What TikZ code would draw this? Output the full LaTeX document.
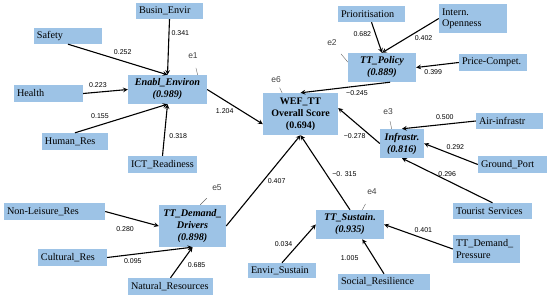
\documentclass[tikz,border=0pt]{standalone}
\usepackage{fontspec}
\setmainfont{Liberation Serif}
\setsansfont{Liberation Sans}
\definecolor{boxblue}{RGB}{157,195,230}

\begin{document}
\begin{tikzpicture}
            [x=1pt, y=-1pt,
             obs node/.style={fill=boxblue, align=left, inner xsep=3pt, inner ysep=1pt, font=\fontsize{10.2}{11.5}\selectfont},
             lat node/.style={fill=boxblue, align=center, inner sep=1pt, font=\fontsize{10.2}{12}\selectfont\bfseries\itshape},
             err node/.style={font=\sffamily\fontsize{8.5}{10}\selectfont, text=black!75, inner sep=0pt},
             link/.style={-stealth, line width=1.1pt},
             err line/.style={black!60, line width=0.4pt},
             coef/.style={font=\sffamily\fontsize{7}{8}\selectfont, inner sep=1pt}]
            \useasboundingbox (0,0) rectangle (550,299);

            % latent constructs
            \node[lat node, minimum width=79pt, minimum height=29pt] (enabl) at (167.5,89.5) {Enabl\_Environ\\(0.989)};
            \node[lat node, minimum width=75pt, minimum height=42pt, font=\fontsize{10}{12}\selectfont\bfseries] (wef) at (300.5,114) {WEF\_TT\\Overall Score\\(0.694)};
            \node[lat node, minimum width=68pt, minimum height=29pt] (policy) at (382,67.5) {TT\_Policy\\(0.889)};
            \node[lat node, minimum width=44pt, minimum height=29pt] (infra) at (402,143.5) {Infrastr.\\(0.816)};
            \node[lat node, minimum width=68pt, minimum height=29pt] (sustain) at (350,224.5) {TT\_Sustain.\\(0.935)};
            \node[lat node, minimum width=67pt, minimum height=42pt] (drivers) at (192.5,226) {TT\_Demand\_\\Drivers\\(0.898)};

            % indicators
            \node[obs node, text width=61pt, minimum height=16pt] (busin) at (169.5,11) {Busin\_Envir};
            \node[obs node, text width=62pt, minimum height=16pt] (safety) at (68,36) {Safety};
            \node[obs node, text width=63pt, minimum height=17pt] (health) at (48.5,93.5) {Health};
            \node[obs node, text width=60pt, minimum height=17pt] (humanres) at (75,141.5) {Human\_Res};
            \node[obs node, text width=63pt, minimum height=17pt] (ict) at (162.5,164.5) {ICT\_Readiness};
            \node[obs node, text width=61pt, minimum height=16pt] (prior) at (371.5,14) {Prioritisation};
            \node[obs node, text width=62pt, minimum height=29pt] (intern) at (473,18.5) {Intern.\\Openness};
            \node[obs node, text width=62pt, minimum height=17pt] (price) at (493,62.5) {Price-Compet.};
            \node[obs node, text width=61pt, minimum height=16pt] (air) at (509.5,121) {Air-infrastr};
            \node[obs node, text width=63pt, minimum height=17pt] (ground) at (512.5,164.5) {Ground\_Port};
            \node[obs node, text width=73pt, minimum height=16pt] (tourist) at (492.5,211) {Tourist Services};
            \node[obs node, text width=61pt, minimum height=28pt] (pressure) at (486.5,249) {TT\_Demand\_\\Pressure};
            \node[obs node, text width=86pt, minimum height=16pt] (social) at (384,282) {Social\_Resilience};
            \node[obs node, text width=62pt, minimum height=15pt] (envsus) at (282,270.5) {Envir\_Sustain};
            \node[obs node, text width=95pt, minimum height=17pt] (nonleis) at (54.5,211.5) {Non-Leisure\_Res};
            \node[obs node, text width=63pt, minimum height=17pt] (cultural) at (72.5,257.5) {Cultural\_Res};
            \node[obs node, text width=79pt, minimum height=17pt] (natural) at (170.5,286.5) {Natural\_Resources};

            % error terms
            \node[err node] (e1) at (193,56) {e1};
            \node[err node] (e2) at (332,43) {e2};
            \node[err node] (e3) at (388,112) {e3};
            \node[err node] (e4) at (372,192) {e4};
            \node[err node] (e5) at (217,188) {e5};
            \node[err node] (e6) at (276,80) {e6};

            \draw[err line, shorten <=9pt] (e1) -- (enabl.26);
            \draw[err line, shorten <=10pt] (e2) -- (policy.171);
            \draw[err line, shorten <=6pt] (e3) -- (infra.125);
            \draw[err line, shorten <=10pt] (e4) -- (sustain.50);
            \draw[err line, shorten <=10pt] (e5) -- (drivers.70);
            \draw[err line, shorten <=5pt] (e6) -- (wef.131);

            \draw[link] (busin.south) -- node[coef, pos=0.25, right=1pt] {0.341} (enabl.north);
            \draw[link] (safety.south) -- node[coef, pos=0.55, above=4.5pt] {0.252} (enabl.north);
            \draw[link] (health.east) -- node[coef, pos=0.33, above=3.5pt] {0.223} (enabl.west);
            \draw[link] (humanres.north) -- node[coef, pos=0.27, above=4.5pt] {0.155} (enabl.south);
            \draw[link] (ict.north) -- node[coef, pos=0.38, right=3.5pt] {0.318} (enabl.south);
            \draw[link] (enabl.east) -- node[coef, pos=0.5, below left] {1.204} (wef.195);

            \draw[link] (prior.south) -- node[coef, pos=0.39, left=3pt] {0.682} (policy.north);
            \draw[link] (intern.west) -- node[coef, pos=0.45, below right] {0.402} (policy.north);
            \draw[link] (price.west) -- node[coef, pos=0.6, below=3pt] {0.399} (policy.east);
            \draw[link] (policy.-61) -- node[coef, pos=0.37, below=2.5pt] {−0.245} (wef.north);

            \draw[link] (air.west) -- node[coef, pos=0.42, above=3pt] {0.500} (infra.north);
            \draw[link] (ground.west) -- node[coef, pos=0.42, above=5pt] {0.292} (infra.east);
            \draw[link] (tourist.north) -- node[coef, pos=0.5, above=2.5pt] {0.296} (infra.south);
            \draw[link] (infra.west) -- node[coef, pos=0.2, left=4.5pt] {−0.278} (wef.9);

            \draw[link] (envsus.north) -- node[coef, pos=0.5, left=5pt] {0.034} (sustain.west);
            \draw[link] (social.north) -- node[coef, pos=0.44, left=14.5pt] {1.005} (sustain.-50);
            \draw[link] (pressure.west) -- node[coef, pos=0.43, above=4.5pt] {0.401} (sustain.east);
            \draw[link] (sustain.north) -- node[coef, pos=0.48, right=4.5pt] {−0. 315} (wef.south);

            \draw[link] (nonleis.east) -- node[coef, pos=0.37, below=8.5pt] {0.280} (drivers.west);
            \draw[link] (cultural.east) -- node[coef, pos=0.3, below=3pt] {0.095} (drivers.south);
            \draw[link] (natural.north) -- node[coef, pos=0.42, right=6.5pt] {0.685} (drivers.south);
            \draw[link] (drivers.east) -- node[coef, pos=0.5, right=3pt] {0.407} (wef.south);
         \end{tikzpicture}
\end{document}
